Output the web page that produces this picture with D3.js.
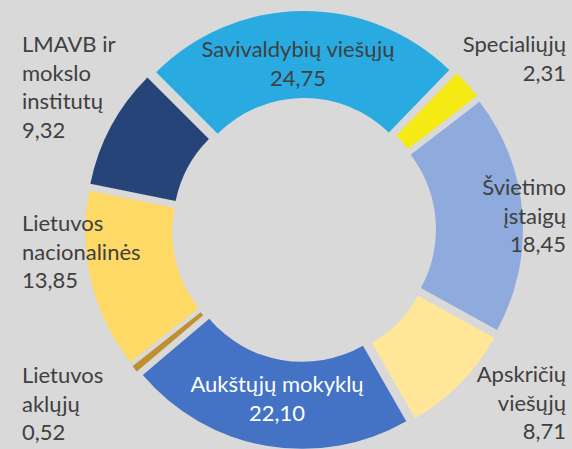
<!DOCTYPE html>
<html>
<head>
<meta charset="utf-8">
<script src="https://cdn.jsdelivr.net/npm/d3@7"></script>
<style>
  body { margin: 0; background: #d9d9d9; }
  svg { display: block; }
</style>
</head>
<body>
<div class="chart"></div>
<script>
/*------------------------------- data -------------------------------*/

const categories = [
    "Savivaldybių viešųjų",
    "Specialiųjų",
    "Švietimo įstaigų",
    "Apskričių viešųjų",
    "Aukštųjų mokyklų",
    "Lietuvos aklųjų",
    "Lietuvos nacionalinės",
    "LMAVB ir mokslo institutų"
]

const values = [24.75, 2.31, 18.45, 8.71, 22.10, 0.52, 13.85, 9.32]

const colors = ["#29abe2", "#f5ea14", "#8faadc", "#ffe699", "#4472c4", "#bf9030", "#ffd966", "#264478"]

// how each label is broken into lines
const labelLines = [
    ["Savivaldybių viešųjų"],
    ["Specialiųjų"],
    ["Švietimo", "įstaigų"],
    ["Apskričių", "viešųjų"],
    ["Aukštųjų mokyklų"],
    ["Lietuvos", "aklųjų"],
    ["Lietuvos", "nacionalinės"],
    ["LMAVB ir", "mokslo", "institutų"]
]

/*------------------------------- layout -------------------------------*/

const size = { width: 572, height: 449 }
const center = { x: 304, y: 230 }
const outerR = 209
const innerR = 122
const explode = 10
const lineH = 28.7

// label placement: anchor x, first baseline y
const labelPos = [
    { x: 298, y: 57, anchor: "middle", fill: "#404040" },
    { x: 566, y: 52, anchor: "end", fill: "#404040" },
    { x: 566, y: 195, anchor: "end", fill: "#404040" },
    { x: 566, y: 382, anchor: "end", fill: "#404040" },
    { x: 277, y: 392, anchor: "middle", fill: "#ffffff" },
    { x: 22, y: 383, anchor: "start", fill: "#404040" },
    { x: 22, y: 231, anchor: "start", fill: "#404040" },
    { x: 22, y: 52, anchor: "start", fill: "#404040" }
]

const fmt = v => v.toFixed(2).replace(".", ",")

const svg = d3.select(".chart").append("svg")
    .attr("width", size.width)
    .attr("height", size.height)

svg.append("rect")
    .attr("width", size.width)
    .attr("height", size.height)
    .attr("fill", "#d9d9d9")

const pie = d3.pie().sort(null).startAngle(-Math.PI / 4).endAngle(Math.PI * 7 / 4)
const arcs = pie(values)

const arc = d3.arc().innerRadius(innerR).outerRadius(outerR)

const g = svg.append("g").attr("transform", `translate(${center.x},${center.y})`)

g.selectAll(".slice")
    .data(arcs)
    .enter()
    .append("path")
    .attr("class", "slice")
    .attr("d", arc)
    .attr("fill", (d, i) => colors[i])
    .attr("transform", d => {
        const mid = (d.startAngle + d.endAngle) / 2
        return `translate(${explode * Math.sin(mid)},${-explode * Math.cos(mid)})`
    })

/*------------------------------- labels -------------------------------*/

const labels = svg.append("g")
    .style("font-family", "Lato, 'Open Sans', sans-serif")
    .style("font-size", "22px")

categories.forEach((c, i) => {
    const p = labelPos[i]
    const lines = labelLines[i].concat([fmt(values[i])])
    const t = labels.append("text")
        .attr("text-anchor", p.anchor)
        .attr("fill", p.fill)
    lines.forEach((l, j) => {
        t.append("tspan")
            .attr("x", p.x)
            .attr("y", p.y + j * lineH)
            .text(l)
    })
})
</script>
</body>
</html>
